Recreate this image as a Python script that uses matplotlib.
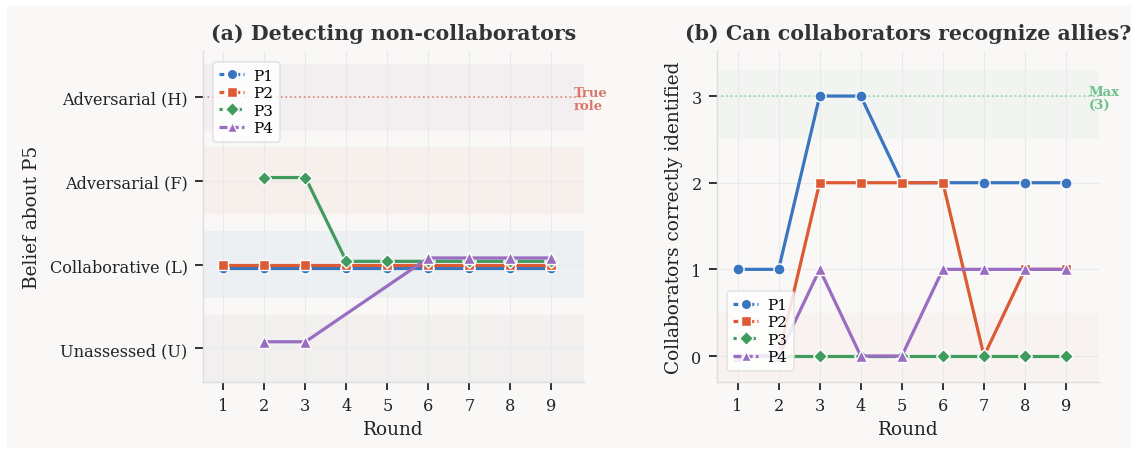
import numpy as np
import matplotlib
matplotlib.use("Agg")
import matplotlib.pyplot as plt
from matplotlib.lines import Line2D
from matplotlib.patches import Rectangle

# ---------------- data ----------------
rounds = [1, 2, 3, 4, 5, 6, 7, 8, 9]
players = ["P1", "P2", "P3", "P4"]
belief_labels = ["Unassessed (U)", "Collaborative (L)", "Adversarial (F)", "Adversarial (H)"]
# belief codes: 0=U, 1=L, 2=F, 3=H ; None = no assessment
belief_p1 = [1, 1, 1, 1, 1, 1, 1, 1, 1]
belief_p2 = [1, 1, 1, 1, 1, 1, 1, 1, 1]
belief_p3 = [None, 2, 2, 1, 1, 1, 1, 1, 1]
belief_p4 = [None, 0, 0, None, None, 1, 1, 1, 1]
true_role = 3

allies_p1 = [1, 1, 3, 3, 2, 2, 2, 2, 2]
allies_p2 = [0, 0, 2, 2, 2, 2, 0, 1, 1]
allies_p3 = [0, 0, 0, 0, 0, 0, 0, 0, 0]
allies_p4 = [0, 0, 1, 0, 0, 1, 1, 1, 1]
max_allies = 3

# ---------------- style ----------------
colors = ["#3a76c0", "#dc5a34", "#3f9b5e", "#9a6cc2"]
markers = ["o", "s", "D", "^"]
msizes = [8, 7.5, 7.5, 8]
leg_dashes = [(1.5, 1), (1.5, 1), (1, 1), (2.5, 1)]
offsets = [-0.04, 0.0, 0.04, 0.08]
bg = "#f9f8f6"

plt.rcParams["font.family"] = ["DejaVu Serif"]
plt.rcParams["axes.edgecolor"] = "#dddddd"

fig = plt.figure(figsize=(11.38, 4.56), dpi=100, facecolor="white")
W, H = 1138, 456
fig.patches.append(Rectangle((7 / W, 7 / H), 1 - 14 / W, 1 - 14 / H,
                             transform=fig.transFigure, facecolor=bg,
                             edgecolor="none", zorder=-10))

def px_axes(l, t, r, b):
    return fig.add_axes([l / W, 1 - b / H, (r - l) / W, (b - t) / H])

ax1 = px_axes(203, 52, 584, 383)
ax2 = px_axes(717, 52, 1099, 383)

def style_axis(ax):
    ax.set_facecolor(bg)
    for s in ["top", "right"]:
        ax.spines[s].set_visible(False)
    for s in ["left", "bottom"]:
        ax.spines[s].set_color("#dddddd")
        ax.spines[s].set_linewidth(1.0)
    ax.grid(True, color="#e9e9e9", linewidth=0.8, zorder=0)
    ax.set_axisbelow(True)
    ax.tick_params(axis="both", length=6, width=1.3, color="#222222",
                   labelsize=11.6, labelcolor="#222222", pad=5)
    ax.set_xticks(rounds)
    ax.set_xlim(0.5, 9.8)
    ax.set_xlabel("Round", fontsize=13.3, color="#222222", labelpad=4)

def legend_handles():
    return [Line2D([0], [0], color=colors[i], marker=markers[i], markersize=msizes[i] - 0.5,
                   markeredgecolor="white", markeredgewidth=1.0, linewidth=2.3,
                   dashes=leg_dashes[i], label=players[i]) for i in range(4)]

def add_legend(ax, loc, anchor):
    leg = ax.legend(handles=legend_handles(), loc=loc, fontsize=11,
                    frameon=True, fancybox=True, framealpha=0.85, edgecolor="#e0e0e0",
                    handlelength=1.6, handletextpad=0.6, borderpad=0.45,
                    labelspacing=0.22, bbox_to_anchor=anchor)
    leg.get_frame().set_linewidth(1.2)
    leg.set_zorder(20)
    return leg

# ---------------- panel (a) ----------------
style_axis(ax1)
band_cols = ["#8a8a8a", "#3a76c0", "#e0604a", "#9a5a8a"]
band_alpha = [0.07, 0.06, 0.06, 0.06]
ax1.axhspan(-0.4, 0.4, color=band_cols[0], alpha=band_alpha[0], lw=0, zorder=0.1)
for k in range(1, 4):
    ax1.axhspan(k - 0.4, k + 0.4, color=band_cols[k], alpha=band_alpha[k], lw=0, zorder=0.1)
ax1.axhline(true_role, color="#d9776b", linestyle=(0, (1, 2)), linewidth=1.1, zorder=1)
ax1.text(9.55, true_role - 0.02, "True\nrole", color="#d9776b", fontsize=9.5,
         fontweight="bold", ha="left", va="center", linespacing=1.05, clip_on=False)

series_a = [belief_p1, belief_p2, belief_p3, belief_p4]
for i, ser in enumerate(series_a):
    xs = [r for r, v in zip(rounds, ser) if v is not None]
    ys = [v + offsets[i] for v in ser if v is not None]
    ax1.plot(xs, ys, color=colors[i], marker=markers[i], markersize=msizes[i],
             markeredgecolor="white", markeredgewidth=1.0, linewidth=2.3,
             zorder=3 + i)
ax1.set_ylim(-0.4, 3.55)
ax1.set_yticks([0, 1, 2, 3])
ax1.set_yticklabels(belief_labels)
ax1.set_ylabel("Belief about P5", fontsize=13.3, color="#222222", labelpad=6)
ax1.set_title("(a) Detecting non-collaborators", fontsize=14.8, fontweight="bold",
              color="#333333", pad=8.5)
add_legend(ax1, "upper left", (0.005, 0.99))

# ---------------- panel (b) ----------------
style_axis(ax2)
ax2.axhspan(2.5, 3.3, color="#4c9f70", alpha=0.035, lw=0, zorder=0.1)
ax2.axhspan(-0.3, 0.5, color="#e0604a", alpha=0.03, lw=0, zorder=0.1)
ax2.axhline(max_allies, color="#7fcf9a", linestyle=(0, (1, 2)), linewidth=1.1, zorder=1)
ax2.text(9.55, max_allies - 0.02, "Max\n(3)", color="#6cc08a", fontsize=9.5,
         fontweight="bold", ha="left", va="center", linespacing=1.05, clip_on=False)

series_b = [allies_p1, allies_p2, allies_p3, allies_p4]
for i, ser in enumerate(series_b):
    ax2.plot(rounds, ser, color=colors[i], marker=markers[i], markersize=msizes[i],
             markeredgecolor="white", markeredgewidth=1.0, linewidth=2.3,
             zorder=3 + i)
ax2.set_ylim(-0.3, 3.52)
ax2.set_yticks([0, 1, 2, 3])
ax2.set_ylabel("Collaborators correctly identified", fontsize=13.3, color="#222222",
               labelpad=6)
ax2.set_title("(b) Can collaborators recognize allies?", fontsize=14.8,
              fontweight="bold", color="#333333", pad=8.5)
add_legend(ax2, "lower left", (0.005, 0.01))

fig.savefig("out.png", dpi=100, facecolor="white")
